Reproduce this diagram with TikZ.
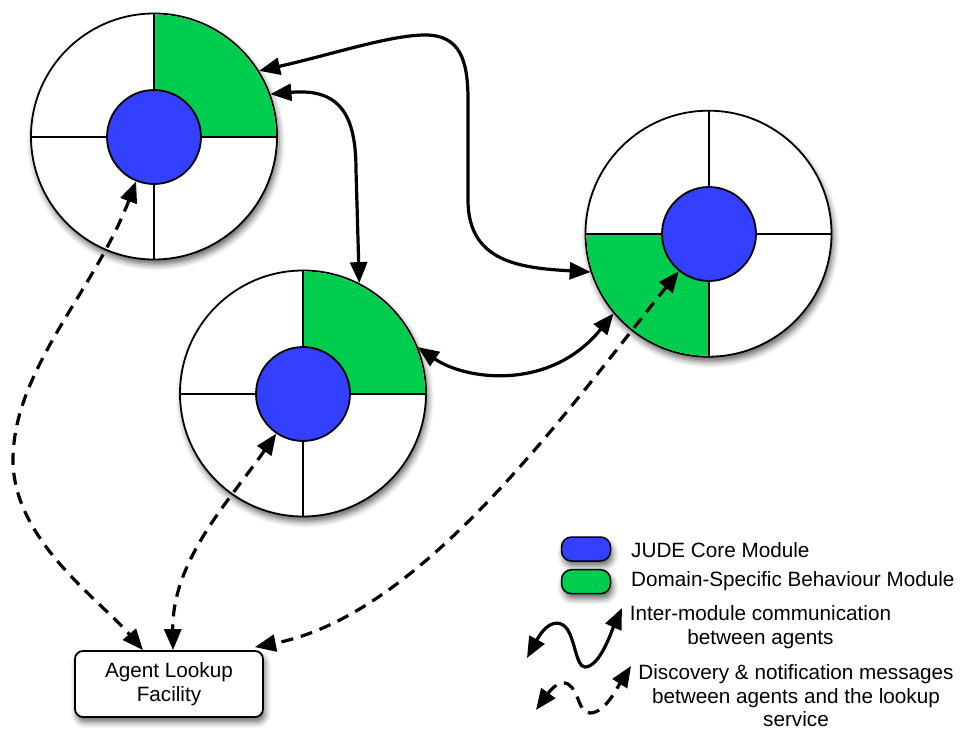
\documentclass[tikz,border=0pt]{standalone}
\usepackage{fontspec}
\setmainfont{Liberation Sans}
\usetikzlibrary{arrows.meta,shadows.blur}
\definecolor{coreblue}{RGB}{51,64,255}
\definecolor{domgreen}{RGB}{0,204,77}
\begin{document}
\begin{tikzpicture}[x=1pt,y=1pt,
  >={Triangle[length=21pt,width=17pt]},
  shad/.style={blur shadow={shadow xshift=2pt, shadow yshift=-5pt, shadow blur radius=6pt, shadow opacity=60}},
  agent/.style={circle, draw=black, line width=1.8pt, fill=white, minimum size=246pt, inner sep=0pt, shad},
  ring/.style={draw=black, line width=2pt},
  core/.style={circle, draw=black, line width=1.8pt, fill=coreblue, minimum size=94pt, inner sep=0pt},
  comm/.style={line width=3.2pt, <->},
  disc/.style={line width=3.2pt, <->, dash pattern=on 12pt off 8pt},
  lookup/.style={draw=black, line width=1.8pt, rounded corners=8pt, fill=white, minimum width=188pt, minimum height=66pt, align=center, inner sep=0pt, shad},
  pill/.style={draw=black, line width=1.5pt, rounded corners=10pt, minimum width=49pt, minimum height=24pt, inner sep=0pt, shad},
  legtext/.style={inner sep=0pt},
  font=\fontsize{20.7}{23.5}\selectfont
]
\useasboundingbox (0,0) rectangle (962,-731);

% agent 1
\node[agent] (a1) at (154,-136.5) {};
\fill[domgreen] (a1.center) -- ++(0:122pt) arc[start angle=0, end angle=90, radius=122pt] -- cycle;
\draw[ring] (a1.north) -- (a1.south) (a1.west) -- (a1.east);
\node[core] (a1c) at (154,-137) {};

% agent 2
\node[agent] (a2) at (303,-393.5) {};
\fill[domgreen] (a2.center) -- ++(0:122pt) arc[start angle=0, end angle=90, radius=122pt] -- cycle;
\draw[ring] (a2.north) -- (a2.south) (a2.west) -- (a2.east);
\node[core] (a2c) at (303,-394) {};

% agent 3
\node[agent] (a3) at (708.5,-233.7) {};
\fill[domgreen] (a3.center) -- ++(180:122pt) arc[start angle=180, end angle=270, radius=122pt] -- cycle;
\draw[ring] (a3.north) -- (a3.south) (a3.west) -- (a3.east);
\node[core] (a3c) at (709,-234) {};

% lookup facility
\node[lookup] (laf) at (169,-684) {Agent Lookup\\Facility};

% inter-module communication
\draw[comm] (a1.32) .. controls (330,-55) and (390,-35) .. (425,-35)
  .. controls (460,-35) and (468,-60) .. (468,-100) -- (468,-200)
  .. controls (468,-262) and (520,-268) .. (a3.198);
\draw[comm] (a1.20) .. controls (340,-88) and (356,-115) .. (356,-170) -- (a2.63);
\draw[comm] (a2.22) .. controls (465,-380) and (550,-392) .. (a3.220);

% discovery messages
\draw[disc] (a1c.248) .. controls (95,-290) and (13,-370) .. (13,-460)
  .. controls (13,-540) and (100,-600) .. ([xshift=-26pt]laf.north);
\draw[disc] (a2c.236) .. controls (230,-500) and (172,-560) .. ([xshift=4pt]laf.north);
\draw[disc] (a3c.231) .. controls (560,-420) and (420,-615) .. ([xshift=-9pt,yshift=3pt]laf.north east);

% legend
\node[pill, fill=coreblue] (lgcore) at (586,-549) {};
\node[pill, fill=domgreen] (lgdom) at (586,-581.7) {};
\node[legtext, anchor=base west] (t1) at (631,-557) {JUDE Core Module};
\node[legtext, anchor=base west] (t2) at (631,-586) {Domain-Specific Behaviour Module};
\node[legtext, align=center] (t3) at (760.5,-627) {Inter-module communication\\between agents};
\node[legtext, align=center] (t4) at (796,-696) {Discovery \& notification messages\\between agents and the lookup\\service};

\coordinate (l1s) at (527,-658);
\coordinate (l1e) at (622,-608);
\draw[comm] (l1s) .. controls (545,-625) and (555,-620) .. (563,-625)
  .. controls (575,-632) and (575,-667) .. (585,-667)
  .. controls (600,-667) and (612,-630) .. (l1e);
\coordinate (l2s) at (536,-710);
\coordinate (l2e) at (631,-666);
\draw[disc] (l2s) .. controls (552,-688) and (560,-680) .. (568,-684)
  .. controls (580,-692) and (578,-713) .. (590,-713)
  .. controls (605,-713) and (617,-688) .. (l2e);
\end{tikzpicture}
\end{document}
